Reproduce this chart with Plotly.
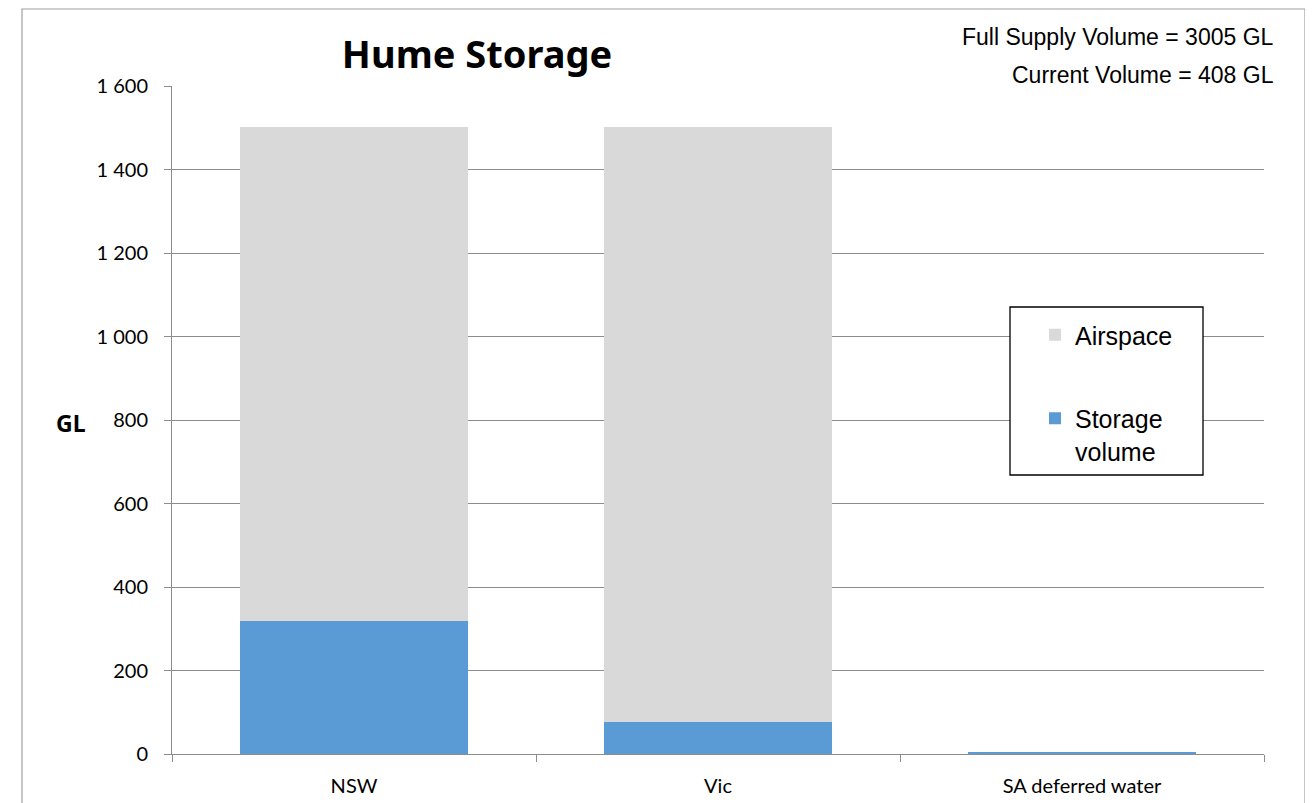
import plotly.graph_objects as go

categories = ["NSW", "Vic", "SA deferred water"]
storage_volume = [319, 77, 5]
airspace = [1183, 1425, 0]
y_ticks = [0, 200, 400, 600, 800, 1000, 1200, 1400, 1600]

# page is shown with an 8 px body margin, so figure coords = page coords - 8
OFF = 8
W, H = 1313 - OFF, 803 - OFF
L, R, T, B = 172, 1264, 86, 754  # plot area in page pixels


def px(x):
    return (x - L) / (R - L)


def py(y):
    return (B - y) / (B - T)


fig = go.Figure()
fig.add_trace(go.Bar(
    x=categories, y=storage_volume, name="Storage<br>volume",
    marker=dict(color="#5B9BD5", line=dict(width=0)),
    width=0.624, legendgroup="b", legendrank=2,
))
fig.add_trace(go.Bar(
    x=categories, y=airspace, name="Airspace",
    marker=dict(color="#D9D9D9", line=dict(width=0)),
    width=0.624, legendgroup="a", legendrank=1,
))

shapes = [
    # cover of the top gridline behind the text box
    dict(type="rect", xref="paper", yref="paper", x0=px(848), x1=px(1275),
         y0=py(96), y1=py(76), fillcolor="white", line=dict(width=0), layer="above"),
    # legend box
    dict(type="rect", xref="paper", yref="paper", x0=px(1010), x1=px(1203),
         y0=py(475), y1=py(307), fillcolor="white",
         line=dict(color="black", width=1.3), layer="above"),
    # outer chart border
    dict(type="rect", xref="paper", yref="paper", x0=px(22), x1=px(1305),
         y0=py(830), y1=py(9), fillcolor="rgba(0,0,0,0)",
         line=dict(color="#A0A0A0", width=1.2), layer="above"),
]

annotations = [
    dict(text="Full Supply Volume = 3005 GL", xref="paper", yref="paper",
         x=px(1276), y=py(37), xanchor="right", yanchor="middle", showarrow=False,
         font=dict(family="Liberation Sans, Arial", size=23, color="black")),
    dict(text="Current Volume = 408 GL", xref="paper", yref="paper",
         x=px(1276), y=py(75), xanchor="right", yanchor="middle", showarrow=False,
         font=dict(family="Liberation Sans, Arial", size=23, color="black")),
    dict(text="<b>GL</b>", xref="paper", yref="paper",
         x=px(71), y=py(423), xanchor="center", yanchor="middle", showarrow=False,
         font=dict(family="Noto Sans, Lato", size=23, color="black")),
]

fig.update_layout(
    width=W, height=H,
    margin=dict(l=L - OFF, r=W - (R - OFF), t=T - OFF, b=H - (B - OFF), pad=0,
                autoexpand=False),
    paper_bgcolor="white", plot_bgcolor="white",
    barmode="stack",
    separators=". ",
    title=dict(text="<b>Hume Storage</b>", x=px(477), xref="paper", xanchor="center",
               y=1 - (55 - OFF) / H, yref="container", yanchor="middle",
               font=dict(family="Noto Sans, Open Sans", size=38, color="black")),
    showlegend=True,
    legend=dict(x=px(1035), y=py(312), xanchor="left", yanchor="top",
                bgcolor="rgba(0,0,0,0)", borderwidth=0,
                traceorder="grouped", tracegroupgap=48, valign="top",
                font=dict(family="Liberation Sans, Arial", size=25, color="black")),
    xaxis=dict(
        type="category", showgrid=False, showline=True, linecolor="#8C8C8C", linewidth=1,
        ticks="outside", tickson="boundaries", ticklen=7, tickcolor="#8C8C8C",
        tickfont=dict(family="Lato, Open Sans", size=20, color="black"),
        ticklabelstandoff=14, fixedrange=True, automargin=False,
    ),
    yaxis=dict(
        range=[0, 1600], tickvals=y_ticks, tickformat=",d",
        showgrid=True, gridcolor="#8C8C8C", gridwidth=1,
        showline=True, linecolor="#8C8C8C", linewidth=1,
        ticks="outside", ticklen=7, tickcolor="#8C8C8C",
        tickfont=dict(family="Lato, Open Sans", size=20, color="black"),
        ticklabelstandoff=12, zeroline=False, automargin=False,
    ),
    shapes=shapes,
    annotations=annotations,
)

fig.write_html("out.html")
